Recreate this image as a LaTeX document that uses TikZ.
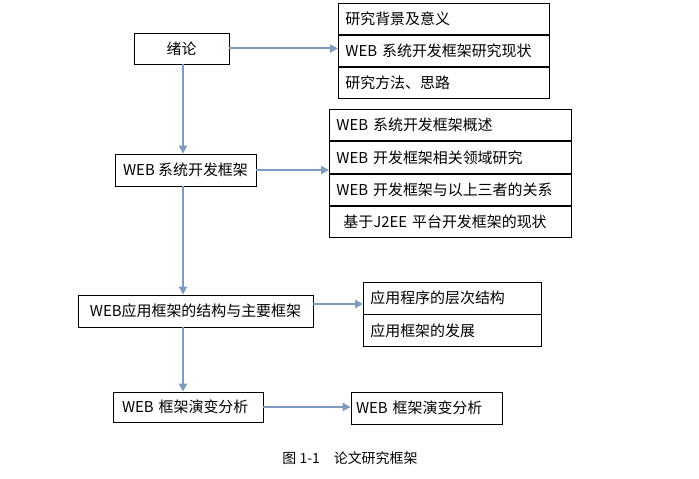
\documentclass[tikz,border=0pt]{standalone}
\usepackage{fontspec}
\setmainfont{Noto Sans CJK SC}
\usetikzlibrary{arrows.meta,calc}
\definecolor{arrowblue}{HTML}{7D9BBD}
\tikzset{
  box/.style={draw=black, line width=0.8bp, inner sep=0pt, font=\fontsize{15}{18}\selectfont},
  leftbox/.style={box, align=left, inner xsep=#1},
  row/.style={box, anchor=north west, align=left, inner xsep=7bp},
  flow/.style={draw=arrowblue, line width=2bp, -{Triangle[length=8bp,width=8bp]}},
  caption/.style={font=\fontsize{14}{17}\selectfont, inner sep=0pt}
}
\begin{document}
\begin{tikzpicture}[x=1bp,y=-1bp]
\useasboundingbox (0,0) rectangle (699,479);

% main column
\node[box, minimum width=95bp, minimum height=31bp] (n1) at (181.5,48.5) {绪论};
\node[box, minimum width=141bp, minimum height=32bp] (n2) at (185.5,170) {WEB 系统开发框架};
\node[box, minimum width=235bp, minimum height=32bp] (n3) at (195.5,311) {WEB应用框架的结构与主要框架};
\node[leftbox=9bp, text width=132bp, minimum height=30bp] (n4) at (188,407) {WEB 框架演变分析};
\node[leftbox=5bp, text width=141bp, minimum height=32bp] (n5) at (426.5,408) {WEB 框架演变分析};
\coordinate (spine) at (183,0);

% list 1
\node[row, text width=197bp, minimum height=31.3bp] (l1a) at (338,3) {研究背景及意义};
\node[row, text width=197bp, minimum height=31.3bp] (l1b) at (l1a.south west) {WEB 系统开发框架研究现状};
\node[row, text width=197bp, minimum height=31.3bp] (l1c) at (l1b.south west) {研究方法、思路};

% list 2
\node[row, text width=228bp, minimum height=31.5bp] (l2a) at (329,109) {WEB 系统开发框架概述};
\node[row, text width=228bp, minimum height=31.5bp] (l2b) at (l2a.south west) {WEB 开发框架相关领域研究};
\node[row, text width=228bp, minimum height=31.5bp] (l2c) at (l2b.south west) {WEB 开发框架与以上三者的关系};
\node[row, text width=228bp, minimum height=31.5bp] (l2d) at (l2c.south west) {\hspace{7bp}基于J2EE 平台开发框架的现状};

% list 3
\node[row, text width=164bp, minimum height=31.5bp] (l3a) at (363,282) {应用程序的层次结构};
\node[row, text width=164bp, minimum height=31.5bp] (l3b) at (l3a.south west) {应用框架的发展};

% caption
\node[caption] (cap) at (350,458) {图 1-1\hspace{1em}论文研究框架};

% connectors
\draw[flow] (n1.east) -- (n1.east -| l1b.west);
\draw[flow] (n1.south -| spine) -- (n2.north -| spine);
\draw[flow] (n2.east) -- (n2.east -| l2b.west);
\draw[flow] (n2.south -| spine) -- (n3.north -| spine);
\draw[flow] ([yshift=7bp]n3.east) -- ([yshift=7bp]n3.east -| l3a.west);
\draw[flow] (n3.south -| spine) -- (n4.north -| spine);
\draw[flow] (n4.east) -- (n4.east -| n5.west);
\end{tikzpicture}
\end{document}
